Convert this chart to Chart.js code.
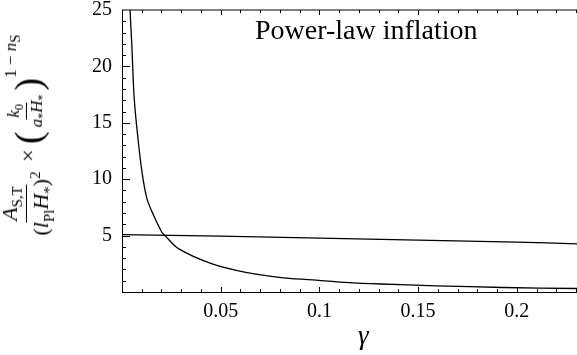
<!DOCTYPE html>
<html>
<head>
<meta charset="utf-8">
<script src="https://cdn.jsdelivr.net/npm/chart.js@4.4.1/dist/chart.umd.min.js"></script>
<style>
  html, body { margin: 0; padding: 0; background: #fff; }
  #wrap { position: relative; width: 577px; height: 355px; overflow: hidden; }
  #chart { position: absolute; left: 0; top: 0; }
  .txt { position: absolute; font-family: "Liberation Serif", serif; color: #000; white-space: nowrap; line-height: 1; }
  #title { left: 255px; top: 16px; font-size: 28px; }
  #xlab { left: 358px; top: 322px; font-size: 27px; font-style: italic; }
  #yanchor { position: absolute; left: 28px; top: 137px; width: 0; height: 0; }
  #ylab { position: absolute; left: 0; top: 0; transform: translate(-50%, -50%) rotate(-90deg);
          font-family: "Liberation Serif", serif; font-size: 22px; display: flex; align-items: center; white-space: nowrap; }
  .frac { display: inline-flex; flex-direction: column; align-items: center; margin: 0 2px; }
  .num { border-bottom: 1.5px solid #000; padding: 0 2px; line-height: 1.05; }
  .den { padding: 0 2px; line-height: 1.15; }
  .small { font-size: 17px; }
  .big { font-size: 38px; line-height: 1; }
  sub, sup { font-size: 15px; }
  .small sub { font-size: 12px; }
  .expo { position: relative; top: -15px; font-size: 17px; }
</style>
</head>
<body>
<div id="wrap">
  <canvas id="chart" width="577" height="355"></canvas>
  <div class="txt" id="title">Power-law inflation</div>
  <div class="txt" id="xlab">γ</div>
  <div id="yanchor">
    <div id="ylab">
      <span class="frac"><span class="num"><i>A</i><sub>S,T</sub></span><span class="den">(<i>l</i><sub>Pl</sub><i>H</i><sub>*</sub>)<sup>2</sup></span></span>
      <span>&nbsp;×&nbsp;</span>
      <span class="big">(</span><span class="frac small"><span class="num"><i>k</i><sub>0</sub></span><span class="den"><i>a</i><sub>*</sub><i>H</i><sub>*</sub></span></span><span class="big">)</span><span class="expo">1 − <i>n</i><sub>S</sub></span>
    </div>
  </div>
</div>
<script>
"use strict";

var $ = function(id) {
  return document.getElementById(id);
};

// steep curve
var gammaSteep = [0.0037, 0.0041, 0.0050, 0.0061, 0.0075, 0.0100, 0.0126, 0.0160, 0.0202, 0.0218,
                  0.0288, 0.0457, 0.0627, 0.0796, 0.0965, 0.113, 0.131, 0.159, 0.193, 0.2305];
var valuesSteep = [28.0, 25.0, 21.8, 17.4, 14.6, 10.8, 8.3, 6.8, 5.3, 5.0,
                   3.82, 2.49, 1.74, 1.30, 1.07, 0.86, 0.71, 0.55, 0.40, 0.31];

// nearly flat curve
var gammaFlat = [0, 0.05, 0.1, 0.15, 0.2, 0.2305];
var valuesFlat = [5.08, 4.95, 4.78, 4.60, 4.42, 4.27];

var xTicks = [0.05, 0.1, 0.15, 0.2];
var yTicks = [5, 10, 15, 20, 25];

function toPoints(xs, ys) {
  var pts = [];
  for (var i = 0; i < xs.length; i++) {
    pts.push({x: xs[i], y: ys[i]});
  }
  return pts;
}

// inward frame ticks like the original (major + minor)
var frameTicks = {
  id: "frameTicks",
  afterDraw: function(chart) {
    var ctx = chart.ctx;
    var a = chart.chartArea;
    var xs = chart.scales.x, ys = chart.scales.y;
    ctx.save();
    ctx.strokeStyle = "#000";
    ctx.lineWidth = 1;
    // top border
    ctx.beginPath();
    ctx.moveTo(a.left, a.top);
    ctx.lineTo(a.right, a.top);
    ctx.stroke();
    ctx.beginPath();
    for (var v = 1; v <= 24; v++) {
      var py = Math.round(ys.getPixelForValue(v)) + 0.5;
      var len = (v % 5 === 0) ? 8 : 4;
      ctx.moveTo(a.left, py);
      ctx.lineTo(a.left + len, py);
    }
    for (var k = 1; k <= 23; k++) {
      var px = Math.round(xs.getPixelForValue(k / 100)) + 0.5;
      var l2 = (k % 5 === 0) ? 5 : 3;
      ctx.moveTo(px, a.bottom);
      ctx.lineTo(px, a.bottom - l2);
      ctx.moveTo(px, a.top);
      ctx.lineTo(px, a.top + l2);
    }
    ctx.stroke();
    ctx.restore();
  }
};

var tickFont = {family: "'Liberation Serif', serif", size: 20, lineHeight: 1.0};

var ctx = $("chart").getContext("2d");
var myChart = new Chart(ctx, {
  type: "scatter",
  data: {
    datasets: [{
      data: toPoints(gammaSteep, valuesSteep),
      showLine: true,
      borderColor: "#000",
      borderWidth: 1.3,
      pointRadius: 0,
      tension: 0.35
    }, {
      data: toPoints(gammaFlat, valuesFlat),
      showLine: true,
      borderColor: "#000",
      borderWidth: 1.3,
      pointRadius: 0,
      tension: 0.35
    }]
  },
  options: {
    responsive: false,
    animation: false,
    layout: {padding: 0},
    plugins: {legend: {display: false}, tooltip: {enabled: false}},
    scales: {
      x: {
        type: "linear",
        min: 0,
        max: 0.2305,
        afterFit: function(s) { s.height = 63; },
        afterBuildTicks: function(s) {
          s.ticks = xTicks.map(function(v) { return {value: v}; });
        },
        border: {display: true, color: "#000", width: 1},
        grid: {display: false, drawTicks: true, tickLength: 10},
        ticks: {
          color: "#000",
          font: tickFont,
          padding: 0,
          maxRotation: 0,
          callback: function(v) { return String(+v.toFixed(2)); }
        }
      },
      y: {
        type: "linear",
        min: 0,
        max: 25,
        afterFit: function(s) { s.width = 122; },
        afterBuildTicks: function(s) {
          s.ticks = yTicks.map(function(v) { return {value: v}; });
        },
        border: {display: true, color: "#000", width: 1},
        grid: {display: false, drawTicks: true, tickLength: 10},
        ticks: {
          color: "#000",
          font: tickFont,
          padding: 0
        }
      }
    }
  },
  plugins: [frameTicks]
});
</script>
</body>
</html>
